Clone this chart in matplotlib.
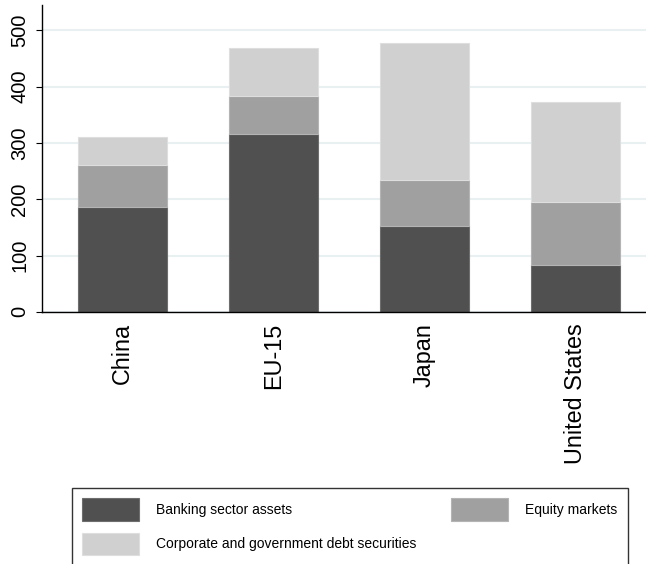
import matplotlib
matplotlib.use("Agg")
import matplotlib.pyplot as plt
from matplotlib import font_manager as fm
from matplotlib.patches import Patch
import numpy as np

categories = ["China", "EU-15", "Japan", "United States"]
banking = [186, 315, 153, 84]
equity = [74, 69, 81, 111]
debt = [50, 84, 243, 178]
series_names = ["Banking sector assets", "Equity markets",
                "Corporate and government debt securities"]
colors = ["#505050", "#a0a0a0", "#d0d0d0"]
edges = ["#6e6e6e", "#b4b4b4", "#dedede"]
yticks = [0, 100, 200, 300, 400, 500]

names = {f.name for f in fm.fontManager.ttflist}
base = "Liberation Sans" if "Liberation Sans" in names else "DejaVu Sans"
plt.rcParams['font.family'] = [base, 'DejaVu Sans']

W, H = 646, 564
fig = plt.figure(figsize=(W / 100, H / 100), dpi=100)
ax = fig.add_axes([42 / W, (H - 311.8) / H, 1 - 42 / W, (311.8 - 5) / H])

x = np.arange(len(categories))
width = 0.59
bottoms = np.zeros(len(categories))
handles = []
for vals, c, e, name in zip([banking, equity, debt], colors, edges, series_names):
    ax.bar(x, vals, width, bottom=bottoms, color=c, edgecolor=e, linewidth=0.8,
           label=name, zorder=2)
    bottoms += np.array(vals)
    handles.append(Patch(facecolor=c, edgecolor=e, linewidth=0.8, label=name))

ax.set_xlim(-0.533, 3.467)
ax.set_ylim(0, 545)
ax.set_yticks(yticks)
ax.set_yticklabels([str(v) for v in yticks], rotation=90, va='center')
ax.tick_params(axis='y', length=4, width=0.8, labelsize=14.5, pad=5)
ax.set_xticks(x)
ax.set_xticklabels(categories, rotation=90)
ax.tick_params(axis='x', length=0, labelsize=16.8, pad=8)
ax.yaxis.grid(True, color="#e8f0f2", linewidth=1.5, zorder=0)
ax.set_axisbelow(True)
for s in ["top", "right"]:
    ax.spines[s].set_visible(False)
for s in ["left", "bottom"]:
    ax.spines[s].set_linewidth(1.0)
    ax.spines[s].set_color("black")

lsize = 10.0
fs_px = lsize * 100 / 72
order = [handles[0], handles[2], handles[1]]
leg = fig.legend(handles=order, labels=[h.get_label() for h in order],
                 loc='upper left', ncol=2, mode='expand',
                 bbox_to_anchor=(72 / W, 1 - 488 / H - 0.01, (628 - 72) / W, 0.01),
                 bbox_transform=fig.transFigure,
                 prop={'family': [base], 'size': lsize},
                 frameon=True, fancybox=False, shadow=False,
                 handlelength=57 / fs_px, handleheight=29 / fs_px,
                 handletextpad=17 / fs_px, labelspacing=12 / fs_px,
                 borderpad=0.75, borderaxespad=0, columnspacing=1.0)
leg.get_frame().set_edgecolor("black")
leg.get_frame().set_linewidth(1.0)

fig.savefig("out.png", dpi=100)
